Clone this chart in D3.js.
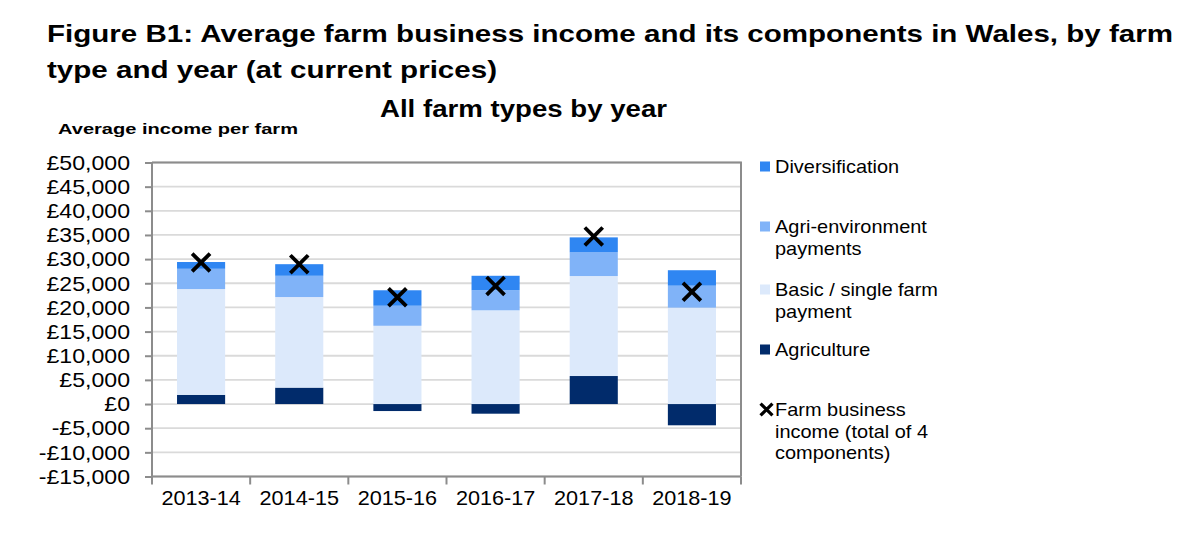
<!DOCTYPE html>
<html>
<head>
<meta charset="utf-8">
<script src="https://cdn.jsdelivr.net/npm/d3@7"></script>
<style>
  body { margin: 0; background: #fff; }
  text { font-family: "Liberation Sans", Arial, sans-serif; fill: #000; }
</style>
</head>
<body>
<div id="chart"></div>
<script>
var years = ["2013-14", "2014-15", "2015-16", "2016-17", "2017-18", "2018-19"];
var agriculture = [1900, 3400, -1450, -2000, 5800, -4400];
var basicPayment = [21900, 18750, 16200, 19400, 20700, 19950];
var agriEnvironment = [4200, 4400, 4150, 4150, 4900, 4550];
var diversification = [1400, 2400, 3200, 3000, 3100, 3200];
var farmIncome = [29300, 28950, 22100, 24450, 34700, 23250];
var yTicks = d3.range(-15000, 50001, 5000);

var svgWidth = 1200;
var svgHeight = 538;
var margin = { top: 162.5, left: 152, right: 459, bottom: 61.5 };
var width = svgWidth - margin.left - margin.right;
var height = svgHeight - margin.top - margin.bottom;

var keys = ["agriculture", "basic", "agrienv", "div"];
var colors = { agriculture: "#012b6b", basic: "#dce9fb", agrienv: "#80b3f8", div: "#2f86f2" };

// one row per year for d3.stack
var rows = years.map(function (y, i) {
  return { year: y, agriculture: agriculture[i], basic: basicPayment[i],
           agrienv: agriEnvironment[i], div: diversification[i], fbi: farmIncome[i] };
});

// the source image is a little wider than its fonts, so stretch text sideways
function stretch(sel, factor) {
  sel.each(function () {
    var w = this.getComputedTextLength();
    d3.select(this).attr("textLength", w * factor).attr("lengthAdjust", "spacingAndGlyphs");
  });
}

var svg = d3.select("#chart")
  .append("svg")
  .attr("width", svgWidth)
  .attr("height", svgHeight);

// titles
svg.append("text")
  .attr("x", 47).attr("y", 42)
  .style("font-weight", "bold").style("font-size", "24px")
  .attr("textLength", 1126).attr("lengthAdjust", "spacingAndGlyphs")
  .text("Figure B1: Average farm business income and its components in Wales, by farm");
svg.append("text")
  .attr("x", 47).attr("y", 78)
  .style("font-weight", "bold").style("font-size", "24px")
  .attr("textLength", 450).attr("lengthAdjust", "spacingAndGlyphs")
  .text("type and year (at current prices)");
svg.append("text")
  .attr("x", 380).attr("y", 117)
  .style("font-weight", "bold").style("font-size", "23px")
  .attr("textLength", 287).attr("lengthAdjust", "spacingAndGlyphs")
  .text("All farm types by year");
svg.append("text")
  .attr("x", 58).attr("y", 134)
  .style("font-weight", "bold").style("font-size", "15.5px")
  .attr("textLength", 240).attr("lengthAdjust", "spacingAndGlyphs")
  .text("Average income per farm");

var chart = svg.append("g")
  .attr("transform", "translate(" + margin.left + "," + margin.top + ")");

var x = d3.scaleBand()
  .domain(years)
  .range([0, width])
  .paddingInner(0.51)
  .paddingOuter(0.255);

var y = d3.scaleLinear()
  .domain([-15000, 50000])
  .range([height, 0]);

// gridlines
chart.append("g")
  .selectAll("line")
  .data(yTicks)
  .enter()
  .append("line")
  .attr("x1", 0).attr("x2", width)
  .attr("y1", d => y(d)).attr("y2", d => y(d))
  .attr("stroke", "#dadada")
  .attr("stroke-width", 1.8);

// stacked bars
var stack = d3.stack().keys(keys).offset(d3.stackOffsetDiverging);
var series = stack(rows);

chart.append("g")
  .selectAll("g")
  .data(series)
  .enter()
  .append("g")
  .attr("fill", d => colors[d.key])
  .selectAll("rect")
  .data(d => d)
  .enter()
  .append("rect")
  .attr("x", d => x(d.data.year))
  .attr("width", x.bandwidth())
  .attr("y", d => y(Math.max(d[0], d[1])))
  .attr("height", d => Math.abs(y(d[0]) - y(d[1])));

// plot border (top and right)
chart.append("path")
  .attr("d", "M0,0H" + width + "V" + height)
  .attr("fill", "none")
  .attr("stroke", "#8c8c8c")
  .attr("stroke-width", 2);

// y axis
var fmt = d3.format(",");
var yAxis = chart.append("g")
  .call(d3.axisLeft(y)
    .tickValues(yTicks)
    .tickSize(7)
    .tickPadding(15)
    .tickFormat(d => (d < 0 ? "-£" : "£") + fmt(Math.abs(d))));
yAxis.selectAll("text").style("font-size", "21px").call(stretch, 1.1);
yAxis.selectAll("line").attr("stroke", "#8c8c8c").attr("stroke-width", 2);
yAxis.select(".domain").attr("stroke", "#8c8c8c").attr("stroke-width", 2).attr("d", "M0,0V" + height);

// x axis: labels at centres, ticks at category boundaries
var xAxis = chart.append("g")
  .attr("transform", "translate(0," + height + ")")
  .call(d3.axisBottom(x).tickSize(0).tickPadding(14));
xAxis.selectAll("text").style("font-size", "21px").call(stretch, 1.03);
xAxis.select(".domain").attr("stroke", "#8c8c8c").attr("stroke-width", 2).attr("d", "M0,0H" + width);

var step = x.step();
xAxis.selectAll(".bound")
  .data(d3.range(years.length + 1))
  .enter()
  .append("line")
  .attr("class", "bound")
  .attr("x1", i => i * step).attr("x2", i => i * step)
  .attr("y1", 0).attr("y2", 8)
  .attr("stroke", "#8c8c8c")
  .attr("stroke-width", 2);

// farm business income markers
var cross = d3.symbol().type(d3.symbolX).size(210);
chart.append("g")
  .selectAll("path")
  .data(rows)
  .enter()
  .append("path")
  .attr("d", cross)
  .attr("transform", d => "translate(" + (x(d.year) + x.bandwidth() / 2) + "," + y(d.fbi) + ")")
  .attr("fill", "none")
  .attr("stroke", "#000")
  .attr("stroke-width", 3.8);

// legend
var legendItems = [
  { key: "div", lines: ["Diversification"], y: 166 },
  { key: "agrienv", lines: ["Agri-environment", "payments"], y: 226 },
  { key: "basic", lines: ["Basic / single farm", "payment"], y: 289 },
  { key: "agriculture", lines: ["Agriculture"], y: 349 },
  { key: "fbi", lines: ["Farm business", "income (total of 4", "components)"], y: 409 }
];

var legend = svg.append("g");
var item = legend.selectAll("g")
  .data(legendItems)
  .enter()
  .append("g")
  .attr("transform", d => "translate(760," + d.y + ")");

item.filter(d => d.key !== "fbi")
  .append("rect")
  .attr("x", 0).attr("y", -4.5)
  .attr("width", 10).attr("height", 10)
  .attr("fill", d => colors[d.key]);

item.filter(d => d.key === "fbi")
  .append("path")
  .attr("d", d3.symbol().type(d3.symbolX).size(95))
  .attr("transform", "translate(6.5,0.5)")
  .attr("fill", "none")
  .attr("stroke", "#000")
  .attr("stroke-width", 3.2);

item.selectAll("text")
  .data(d => d.lines.map((t, i) => ({ t: t, i: i })))
  .enter()
  .append("text")
  .attr("x", 15)
  .attr("y", d => 7 + d.i * 21.5)
  .style("font-size", "19px")
  .text(d => d.t)
  .call(stretch, 1.05);
</script>
</body>
</html>
